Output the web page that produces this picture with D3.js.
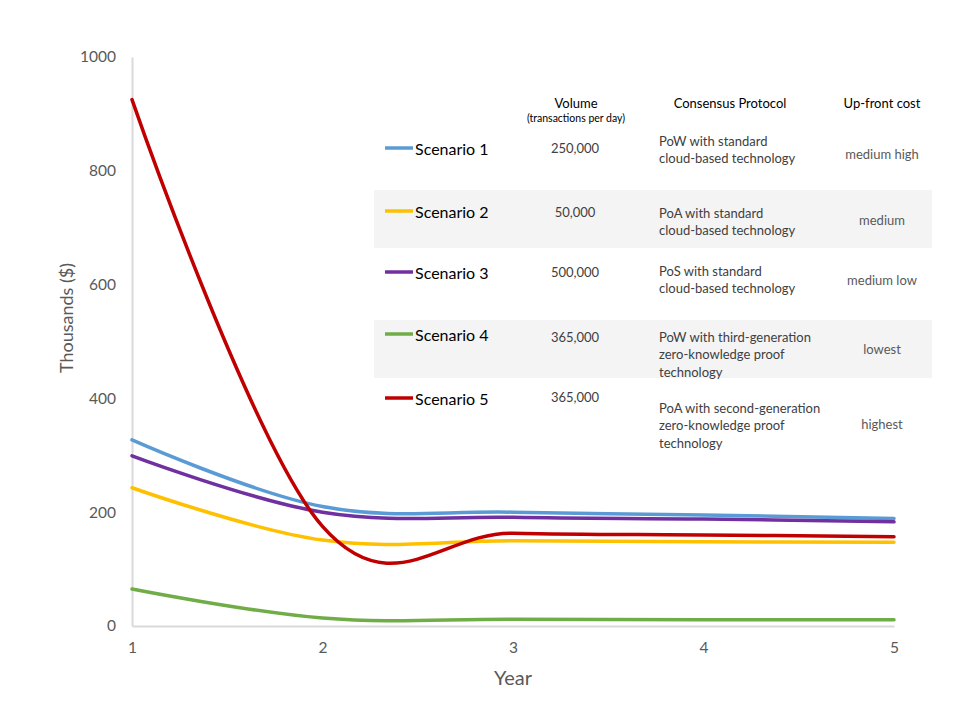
<!DOCTYPE html>
<html>
<head>
<meta charset="utf-8">
<script src="https://cdn.jsdelivr.net/npm/d3@7"></script>
<style>
  html, body { margin: 0; padding: 0; background: #fff; }
  svg { display: block; font-family: Lato, "Open Sans", sans-serif; }
</style>
</head>
<body>
<svg id="chart" width="957" height="702"></svg>
<script>
// Years on the x axis
const years = [1, 2, 3, 4, 5];
// Cumulative cost per scenario, thousands of dollars
const scenarioNames = ["Scenario 1", "Scenario 2", "Scenario 3", "Scenario 4", "Scenario 5"];
const scenario1 = [327, 210, 200, 195, 189];
const scenario2 = [243, 151, 150, 148, 147];
const scenario3 = [299, 200, 191, 188, 183];
const scenario4 = [65, 14, 12, 11, 11];
const scenario5 = [925, 175, 163, 160, 157];
const seriesColors = ["#5B9BD5", "#FFC000", "#7030A0", "#70AD47", "#C00000"];
// Table columns
const volumes = ["250,000", "50,000", "500,000", "365,000", "365,000"];
const protocols = [
  ["PoW with standard", "cloud-based technology"],
  ["PoA with standard", "cloud-based technology"],
  ["PoS with standard", "cloud-based technology"],
  ["PoW with third-generation", "zero-knowledge proof", "technology"],
  ["PoA with second-generation", "zero-knowledge proof", "technology"]
];
const upfrontCosts = ["medium high", "medium", "medium low", "lowest", "highest"];
const yTicks = [0, 200, 400, 600, 800, 1000];

const allSeries = [scenario1, scenario2, scenario3, scenario4, scenario5];

const svg = d3.select("#chart");
const x = d3.scaleLinear().domain([1, 5]).range([132, 894]);
const y = d3.scaleLinear().domain([0, 1000]).range([626, 57]);

// Axes
const gy = svg.append("g").attr("transform", "translate(132,0)")
  .call(d3.axisLeft(y).tickValues(yTicks).tickSize(0).tickPadding(16).tickFormat(d3.format("d")));
const gx = svg.append("g").attr("transform", "translate(0,626)")
  .call(d3.axisBottom(x).tickValues(years).tickSize(0).tickPadding(16).tickFormat(d3.format("d")));
[gx, gy].forEach(g => {
  g.select(".domain").attr("stroke", "#D9D9D9").attr("stroke-width", 2);
  g.selectAll("text").attr("fill", "#595959").style("font-size", "15.5px").style("font-family", "Lato, sans-serif");
});

// Axis titles
svg.append("text")
  .attr("transform", "translate(66,318) rotate(-90)")
  .attr("text-anchor", "middle").attr("dominant-baseline", "central")
  .attr("fill", "#595959").style("font-size", "18px")
  .text("Thousands ($)");
svg.append("text")
  .attr("x", 513).attr("y", 677)
  .attr("text-anchor", "middle").attr("dominant-baseline", "central")
  .attr("fill", "#595959").style("font-size", "20px")
  .text("Year");

// Table: shaded rows, headers, legend entries and descriptions
const shadeRows = [[190, 248], [320, 378]];
svg.selectAll("rect.shade").data(shadeRows).join("rect")
  .attr("class", "shade")
  .attr("x", 374).attr("width", 558)
  .attr("y", d => d[0]).attr("height", d => d[1] - d[0])
  .attr("fill", "#F4F4F4");

const header = svg.append("g").attr("text-anchor", "middle").attr("fill", "#000").style("font-size", "13px");
header.append("text").attr("x", 576).attr("y", 103).attr("dominant-baseline", "central").text("Volume");
header.append("text").attr("x", 576).attr("y", 118).attr("dominant-baseline", "central")
  .style("font-size", "10.5px").text("(transactions per day)");
header.append("text").attr("x", 730).attr("y", 103).attr("dominant-baseline", "central").text("Consensus Protocol");
header.append("text").attr("x", 882).attr("y", 103).attr("dominant-baseline", "central").text("Up-front cost");

const rowY = [148, 211, 272, 334, 398];
const volumeY = [148, 212, 272, 337, 397];
const protocolY = [141, 213, 271, 337, 408];
const costY = [154, 220, 280, 349, 424];

const rows = svg.selectAll("g.row").data(scenarioNames).join("g").attr("class", "row");
rows.append("line")
  .attr("x1", 385).attr("x2", 413)
  .attr("y1", (d, i) => rowY[i]).attr("y2", (d, i) => rowY[i])
  .attr("stroke", (d, i) => seriesColors[i]).attr("stroke-width", 3.5);
rows.append("text")
  .attr("x", 415).attr("y", (d, i) => rowY[i]).attr("dominant-baseline", "central")
  .attr("fill", "#000").style("font-size", "16px")
  .text(d => d);
rows.append("text")
  .attr("x", 575).attr("y", (d, i) => volumeY[i]).attr("dominant-baseline", "central")
  .attr("text-anchor", "middle").attr("fill", "#404040").style("font-size", "13px")
  .text((d, i) => volumes[i]);
rows.each(function(d, i) {
  d3.select(this).selectAll("text.protocol").data(protocols[i]).join("text")
    .attr("class", "protocol")
    .attr("x", 659).attr("y", (t, j) => protocolY[i] + j * 17.3)
    .attr("dominant-baseline", "central").attr("fill", "#404040").style("font-size", "13px")
    .text(t => t);
});
rows.append("text")
  .attr("x", 882).attr("y", (d, i) => costY[i]).attr("dominant-baseline", "central")
  .attr("text-anchor", "middle").attr("fill", "#595959").style("font-size", "13px")
  .text((d, i) => upfrontCosts[i]);

// Smoothed cost curves
const line = d3.line()
  .x((d, i) => x(years[i]))
  .y(d => y(d))
  .curve(d3.curveCardinal.tension(-0.1));

svg.selectAll("path.series").data(allSeries).join("path")
  .attr("class", "series")
  .attr("d", d => line(d))
  .attr("fill", "none")
  .attr("stroke", (d, i) => seriesColors[i])
  .attr("stroke-width", 3.5)
  .attr("stroke-linecap", "round");
</script>
</body>
</html>
